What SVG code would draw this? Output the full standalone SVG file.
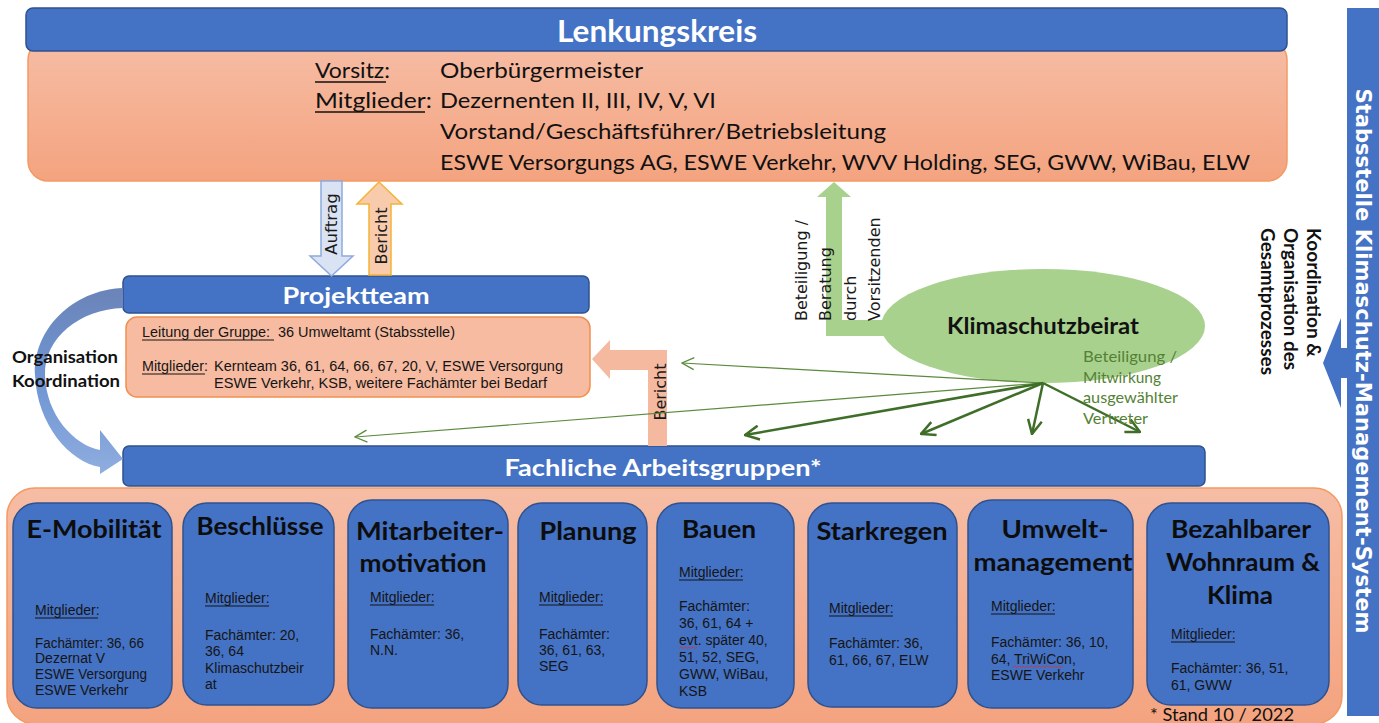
<svg xmlns="http://www.w3.org/2000/svg" width="1379" height="723" viewBox="0 0 1379 723">
<defs>
<style>
.blue{fill:#4472C4;stroke:#2F528F;stroke-width:1.5}
.hdr{font-family:Lato,"Open Sans",sans-serif;font-weight:700;fill:#fff}
.cal{font-family:Lato,"Open Sans",sans-serif;fill:#111}
.calb{font-family:Lato,"Open Sans",sans-serif;font-weight:700;fill:#111}
.ar{font-family:"Liberation Sans",Arial,sans-serif;font-size:14px;fill:#151515}
.dv{font-family:"DejaVu Sans",Verdana,sans-serif;fill:#1a1a1a}
.ttl{font-family:Lato,"Open Sans",sans-serif;font-weight:700;font-size:25px;fill:#0d0d0d;text-anchor:middle}
.ul{stroke:#151515;stroke-width:1}
.thin{stroke:#5B8A3C;stroke-width:1.2;fill:none}
.thick{stroke:#3E6E28;stroke-width:2.5;fill:none}
</style>
<linearGradient id="peach" x1="0" y1="0" x2="0" y2="1">
<stop offset="0" stop-color="#F6BDA5"/>
<stop offset="1" stop-color="#F4A37F"/>
</linearGradient>
<linearGradient id="curv" x1="0" y1="0" x2="0" y2="1">
<stop offset="0" stop-color="#6B84B8"/>
<stop offset="0.5" stop-color="#6F95D3"/>
<stop offset="1" stop-color="#8FADDF"/>
</linearGradient>
<marker id="mThin" markerUnits="userSpaceOnUse" viewBox="0 0 14 14" refX="13" refY="7" markerWidth="14" markerHeight="14" orient="auto">
<path d="M1,1 L13,7 L1,13" fill="none" stroke="#5B8A3C" stroke-width="1.3"/>
</marker>
<marker id="mThick" markerUnits="userSpaceOnUse" viewBox="0 0 16 16" refX="15" refY="8" markerWidth="16" markerHeight="16" orient="auto">
<path d="M1,1 L15,8 L1,15" fill="none" stroke="#3E6E28" stroke-width="2.5"/>
</marker>
</defs>
<rect x="0" y="0" width="1379" height="723" fill="#fff"/>

<!-- Lenkungskreis -->
<g id="lenkungskreis">
<rect x="28" y="40" width="1259" height="141" rx="20" fill="url(#peach)" stroke="#F39A62" stroke-width="1.5"/>
<rect x="26" y="8" width="1261" height="43" rx="7" class="blue"/>
<text x="657" y="42" class="hdr" font-size="30" text-anchor="middle" textLength="200" lengthAdjust="spacingAndGlyphs">Lenkungskreis</text>
<g class="cal" font-size="22">
<text x="315" y="78" textLength="75" lengthAdjust="spacingAndGlyphs">Vorsitz:</text>
<text x="440" y="78" textLength="203" lengthAdjust="spacingAndGlyphs">Oberbürgermeister</text>
<text x="315" y="108" textLength="117" lengthAdjust="spacingAndGlyphs">Mitglieder:</text>
<text x="440" y="108" textLength="276" lengthAdjust="spacingAndGlyphs">Dezernenten II, III, IV, V, VI</text>
<text x="440" y="139" textLength="446" lengthAdjust="spacingAndGlyphs">Vorstand/Geschäftsführer/Betriebsleitung</text>
<text x="440" y="170" textLength="810" lengthAdjust="spacingAndGlyphs">ESWE Versorgungs AG, ESWE Verkehr, WVV Holding, SEG, GWW, WiBau, ELW</text>
</g>
<line x1="315" y1="82" x2="386" y2="82" stroke="#111" stroke-width="1.5"/>
<line x1="315" y1="112" x2="425" y2="112" stroke="#111" stroke-width="1.5"/>
</g>

<!-- Stabsstelle side bar -->
<g id="stabsstelle">
<rect x="1347" y="8" width="34" height="708" fill="#4472C4"/>
<polygon points="1348,348 1341,348 1341,318 1323,363 1341,408 1341,378 1348,378" fill="#4472C4"/>
<text transform="translate(1356,361) rotate(90)" class="hdr" font-size="21" text-anchor="middle" textLength="545" lengthAdjust="spacingAndGlyphs" style="font-family:'DejaVu Sans',Verdana,sans-serif">Stabsstelle Klimaschutz-Management-System</text>
<g class="calb" font-size="18">
<text transform="translate(1307,228) rotate(90)" textLength="129" lengthAdjust="spacingAndGlyphs">Koordination &amp;</text>
<text transform="translate(1284,228) rotate(90)" textLength="142" lengthAdjust="spacingAndGlyphs">Organisation des</text>
<text transform="translate(1261,228) rotate(90)" textLength="147" lengthAdjust="spacingAndGlyphs">Gesamtprozesses</text>
</g>
</g>

<!-- Projektteam -->
<g id="projektteam">
<rect x="126" y="317" width="464" height="80" rx="11" fill="#F7BBA1" stroke="#F0904F" stroke-width="1.5"/>
<rect x="123" y="276" width="466" height="37" rx="6" class="blue"/>
<text x="356" y="304" class="hdr" font-size="23" text-anchor="middle" textLength="147" lengthAdjust="spacingAndGlyphs">Projektteam</text>
<g class="ar">
<text x="142" y="337" textLength="128" lengthAdjust="spacingAndGlyphs">Leitung der Gruppe:</text>
<text x="278" y="337" textLength="177" lengthAdjust="spacingAndGlyphs">36 Umweltamt (Stabsstelle)</text>
<text x="142" y="371" textLength="66" lengthAdjust="spacingAndGlyphs">Mitglieder:</text>
<text x="214" y="371" textLength="349" lengthAdjust="spacingAndGlyphs">Kernteam 36, 61, 64, 66, 67, 20, V, ESWE Versorgung</text>
<text x="214" y="388" textLength="333" lengthAdjust="spacingAndGlyphs">ESWE Verkehr, KSB, weitere Fachämter bei Bedarf</text>
</g>
<line x1="142" y1="340" x2="274" y2="340" class="ul"/>
<line x1="142" y1="374" x2="205" y2="374" class="ul"/>
</g>

<!-- Klimaschutzbeirat -->
<g id="klimaschutzbeirat">
<polygon points="834,182 851,197 842,197 842,320 886,320 886,336 826,336 826,197 817,197" fill="#A9D18E"/>
<ellipse cx="1043" cy="326" rx="162" ry="57" fill="#A9D18E"/>
<text x="1043" y="334" class="calb" font-size="22" text-anchor="middle" textLength="192" lengthAdjust="spacingAndGlyphs">Klimaschutzbeirat</text>
<g class="dv" font-size="16">
<text transform="translate(807,321) rotate(-90)" textLength="101" lengthAdjust="spacingAndGlyphs">Beteiligung /</text>
<text transform="translate(831,321) rotate(-90)">Beratung</text>
<text transform="translate(856,321) rotate(-90)">durch</text>
<text transform="translate(880,321) rotate(-90)">Vorsitzenden</text>
</g>
</g>

<!-- Fachliche Arbeitsgruppen -->
<g id="fachliche-arbeitsgruppen">
<rect x="7" y="488" width="1335" height="236" rx="28" fill="url(#peach)" stroke="#F39A62" stroke-width="1.5"/>
<rect x="123" y="446" width="1082" height="40" rx="6" class="blue"/>
<text x="663" y="476" class="hdr" font-size="23" text-anchor="middle" textLength="317" lengthAdjust="spacingAndGlyphs">Fachliche Arbeitsgruppen*</text>
<text x="1150" y="721" class="cal" font-size="18" textLength="144" lengthAdjust="spacingAndGlyphs">* Stand 10 / 2022</text>
</g>

<g id="ag-emobilitaet">
<rect x="13" y="503" width="159" height="205" rx="24" class="blue"/>
<text x="94" y="538" class="ttl" textLength="135" lengthAdjust="spacingAndGlyphs">E-Mobilität</text>
<g class="ar"><text x="35" y="615">Mitglieder:</text><text x="35" y="648" textLength="109" lengthAdjust="spacingAndGlyphs">Fachämter: 36, 66</text><text x="35" y="663">Dezernat V</text><text x="35" y="679" textLength="112" lengthAdjust="spacingAndGlyphs">ESWE Versorgung</text><text x="35" y="695">ESWE Verkehr</text></g>
<line x1="35" y1="618" x2="98" y2="618" class="ul"/>
</g>
<g id="ag-beschluesse">
<rect x="183" y="503" width="151" height="202" rx="24" class="blue"/>
<text x="260" y="535" class="ttl" textLength="127" lengthAdjust="spacingAndGlyphs">Beschlüsse</text>
<g class="ar"><text x="205" y="603">Mitglieder:</text><text x="205" y="640">Fachämter: 20,</text><text x="205" y="656">36, 64</text><text x="205" y="673">Klimaschutzbeir</text><text x="205" y="689">at</text></g>
<line x1="205" y1="606" x2="269" y2="606" class="ul"/>
</g>
<g id="ag-mitarbeitermotivation">
<rect x="348" y="500" width="160" height="208" rx="24" class="blue"/>
<text x="430" y="540" class="ttl" textLength="148" lengthAdjust="spacingAndGlyphs">Mitarbeiter-</text>
<text x="423" y="572" class="ttl" textLength="127" lengthAdjust="spacingAndGlyphs">motivation</text>
<g class="ar"><text x="370" y="602">Mitglieder:</text><text x="370" y="639">Fachämter: 36,</text><text x="370" y="655">N.N.</text></g>
<line x1="370" y1="605" x2="434" y2="605" class="ul"/>
</g>
<g id="ag-planung">
<rect x="518" y="503" width="129" height="202" rx="24" class="blue"/>
<text x="588" y="540" class="ttl" textLength="97" lengthAdjust="spacingAndGlyphs">Planung</text>
<g class="ar"><text x="539" y="602">Mitglieder:</text><text x="539" y="639">Fachämter:</text><text x="539" y="655">36, 61, 63,</text><text x="539" y="671">SEG</text></g>
<line x1="539" y1="605" x2="603" y2="605" class="ul"/>
</g>
<g id="ag-bauen">
<rect x="657" y="503" width="137" height="205" rx="24" class="blue"/>
<text x="719" y="538" class="ttl" textLength="74" lengthAdjust="spacingAndGlyphs">Bauen</text>
<g class="ar"><text x="679" y="577">Mitglieder:</text><text x="679" y="611">Fachämter:</text><text x="679" y="628">36, 61, 64 +</text><text x="679" y="645">evt. später 40,</text><text x="679" y="662">51, 52, SEG,</text><text x="679" y="679">GWW, WiBau,</text><text x="679" y="696">KSB</text></g>
<line x1="679" y1="580" x2="743" y2="580" class="ul"/>
<path d="M679,648.5 l2,-1.5 l2,1.5 l2,-1.5 l2,1.5 l2,-1.5 l2,1.5 l2,-1.5 l2,1.5 l2,-1.5" fill="none" stroke="#E03030" stroke-width="0.8"/>
</g>
<g id="ag-starkregen">
<rect x="808" y="503" width="149" height="204" rx="24" class="blue"/>
<text x="882" y="540" class="ttl" textLength="131" lengthAdjust="spacingAndGlyphs">Starkregen</text>
<g class="ar"><text x="829" y="613">Mitglieder:</text><text x="829" y="648">Fachämter: 36,</text><text x="829" y="665">61, 66, 67, ELW</text></g>
<line x1="829" y1="616" x2="893" y2="616" class="ul"/>
</g>
<g id="ag-umweltmanagement">
<rect x="968" y="500" width="165" height="208" rx="24" class="blue"/>
<text x="1055" y="538" class="ttl" textLength="107" lengthAdjust="spacingAndGlyphs">Umwelt-</text>
<text x="1053" y="571" class="ttl" textLength="159" lengthAdjust="spacingAndGlyphs">management</text>
<g class="ar"><text x="991" y="611">Mitglieder:</text><text x="991" y="647">Fachämter: 36, 10,</text><text x="991" y="664">64, TriWiCon,</text><text x="991" y="680">ESWE Verkehr</text></g>
<line x1="991" y1="614" x2="1055" y2="614" class="ul"/>
<path d="M1013,667.5 l2,-1.5 l2,1.5 l2,-1.5 l2,1.5 l2,-1.5 l2,1.5 l2,-1.5 l2,1.5 l2,-1.5 l2,1.5 l2,-1.5 l2,1.5 l2,-1.5 l2,1.5 l2,-1.5 l2,1.5 l2,-1.5 l2,1.5 l2,-1.5 l2,1.5 l2,-1.5 l2,1.5 l2,-1.5 l2,1.5 l2,-1.5" fill="none" stroke="#E03030" stroke-width="0.8"/>
</g>
<g id="ag-wohnraum-klima">
<rect x="1147" y="503" width="182" height="202" rx="24" class="blue"/>
<text x="1241" y="538" class="ttl" textLength="140" lengthAdjust="spacingAndGlyphs">Bezahlbarer</text>
<text x="1243" y="571" class="ttl" textLength="154" lengthAdjust="spacingAndGlyphs">Wohnraum &amp;</text>
<text x="1240" y="604" class="ttl" textLength="66" lengthAdjust="spacingAndGlyphs">Klima</text>
<g class="ar"><text x="1171" y="639">Mitglieder:</text><text x="1171" y="673">Fachämter: 36, 51,</text><text x="1171" y="690">61, GWW</text></g>
<line x1="1171" y1="642" x2="1235" y2="642" class="ul"/>
</g>

<!-- Connectors -->
<g id="connectors">
<polygon points="321,181 342,181 342,256 353,256 331.5,276 310,256 321,256" fill="#DAE3F3" stroke="#8FAADC" stroke-width="1.5"/>
<text transform="translate(337,224) rotate(-90)" class="dv" font-size="16" text-anchor="middle" textLength="62" lengthAdjust="spacingAndGlyphs">Auftrag</text>
<polygon points="379,182 402,204 391,204 391,275 369,275 369,204 357,204" fill="#F8CBAD" stroke="#F5B335" stroke-width="1.5"/>
<text transform="translate(387,236) rotate(-90)" class="dv" font-size="16" text-anchor="middle" textLength="57" lengthAdjust="spacingAndGlyphs">Bericht</text>
<polygon points="592,359 610,340 610,350 667,350 667,446 648,446 648,370 610,370 610,379" fill="#F5B9A0"/>
<text transform="translate(666,392) rotate(-90)" class="dv" font-size="16" text-anchor="middle" textLength="57" lengthAdjust="spacingAndGlyphs">Bericht</text>
<path d="M123,288 C72,290 33,330 35,375 C37,425 70,462 100,467 L100,474 L123,459 L100,430 L100,450 C74,445 46,415 45,375 C44,338 80,309 123,308 Z" fill="url(#curv)"/>
<text x="12" y="363" class="calb" font-size="17" textLength="106" lengthAdjust="spacingAndGlyphs">Organisation</text>
<text x="12" y="387" class="calb" font-size="17" textLength="108" lengthAdjust="spacingAndGlyphs">Koordination</text>
<line x1="1043" y1="383" x2="682" y2="363" class="thin" marker-end="url(#mThin)"/>
<line x1="1043" y1="383" x2="355" y2="437" class="thin" marker-end="url(#mThin)"/>
<line x1="1043" y1="383" x2="745" y2="435" class="thick" marker-end="url(#mThick)"/>
<line x1="1043" y1="383" x2="921" y2="434" class="thick" marker-end="url(#mThick)"/>
<line x1="1043" y1="383" x2="1032" y2="434" class="thick" marker-end="url(#mThick)"/>
<line x1="1043" y1="383" x2="1140" y2="432" class="thick" marker-end="url(#mThick)"/>
<g class="cal" font-size="16" style="fill:#548235">
<text x="1083" y="362" textLength="94" lengthAdjust="spacingAndGlyphs">Beteiligung /</text>
<text x="1083" y="383" textLength="78" lengthAdjust="spacingAndGlyphs">Mitwirkung</text>
<text x="1083" y="403" textLength="95" lengthAdjust="spacingAndGlyphs">ausgewählter</text>
<text x="1083" y="424" textLength="65" lengthAdjust="spacingAndGlyphs">Vertreter</text>
</g>
</g>
</svg>
